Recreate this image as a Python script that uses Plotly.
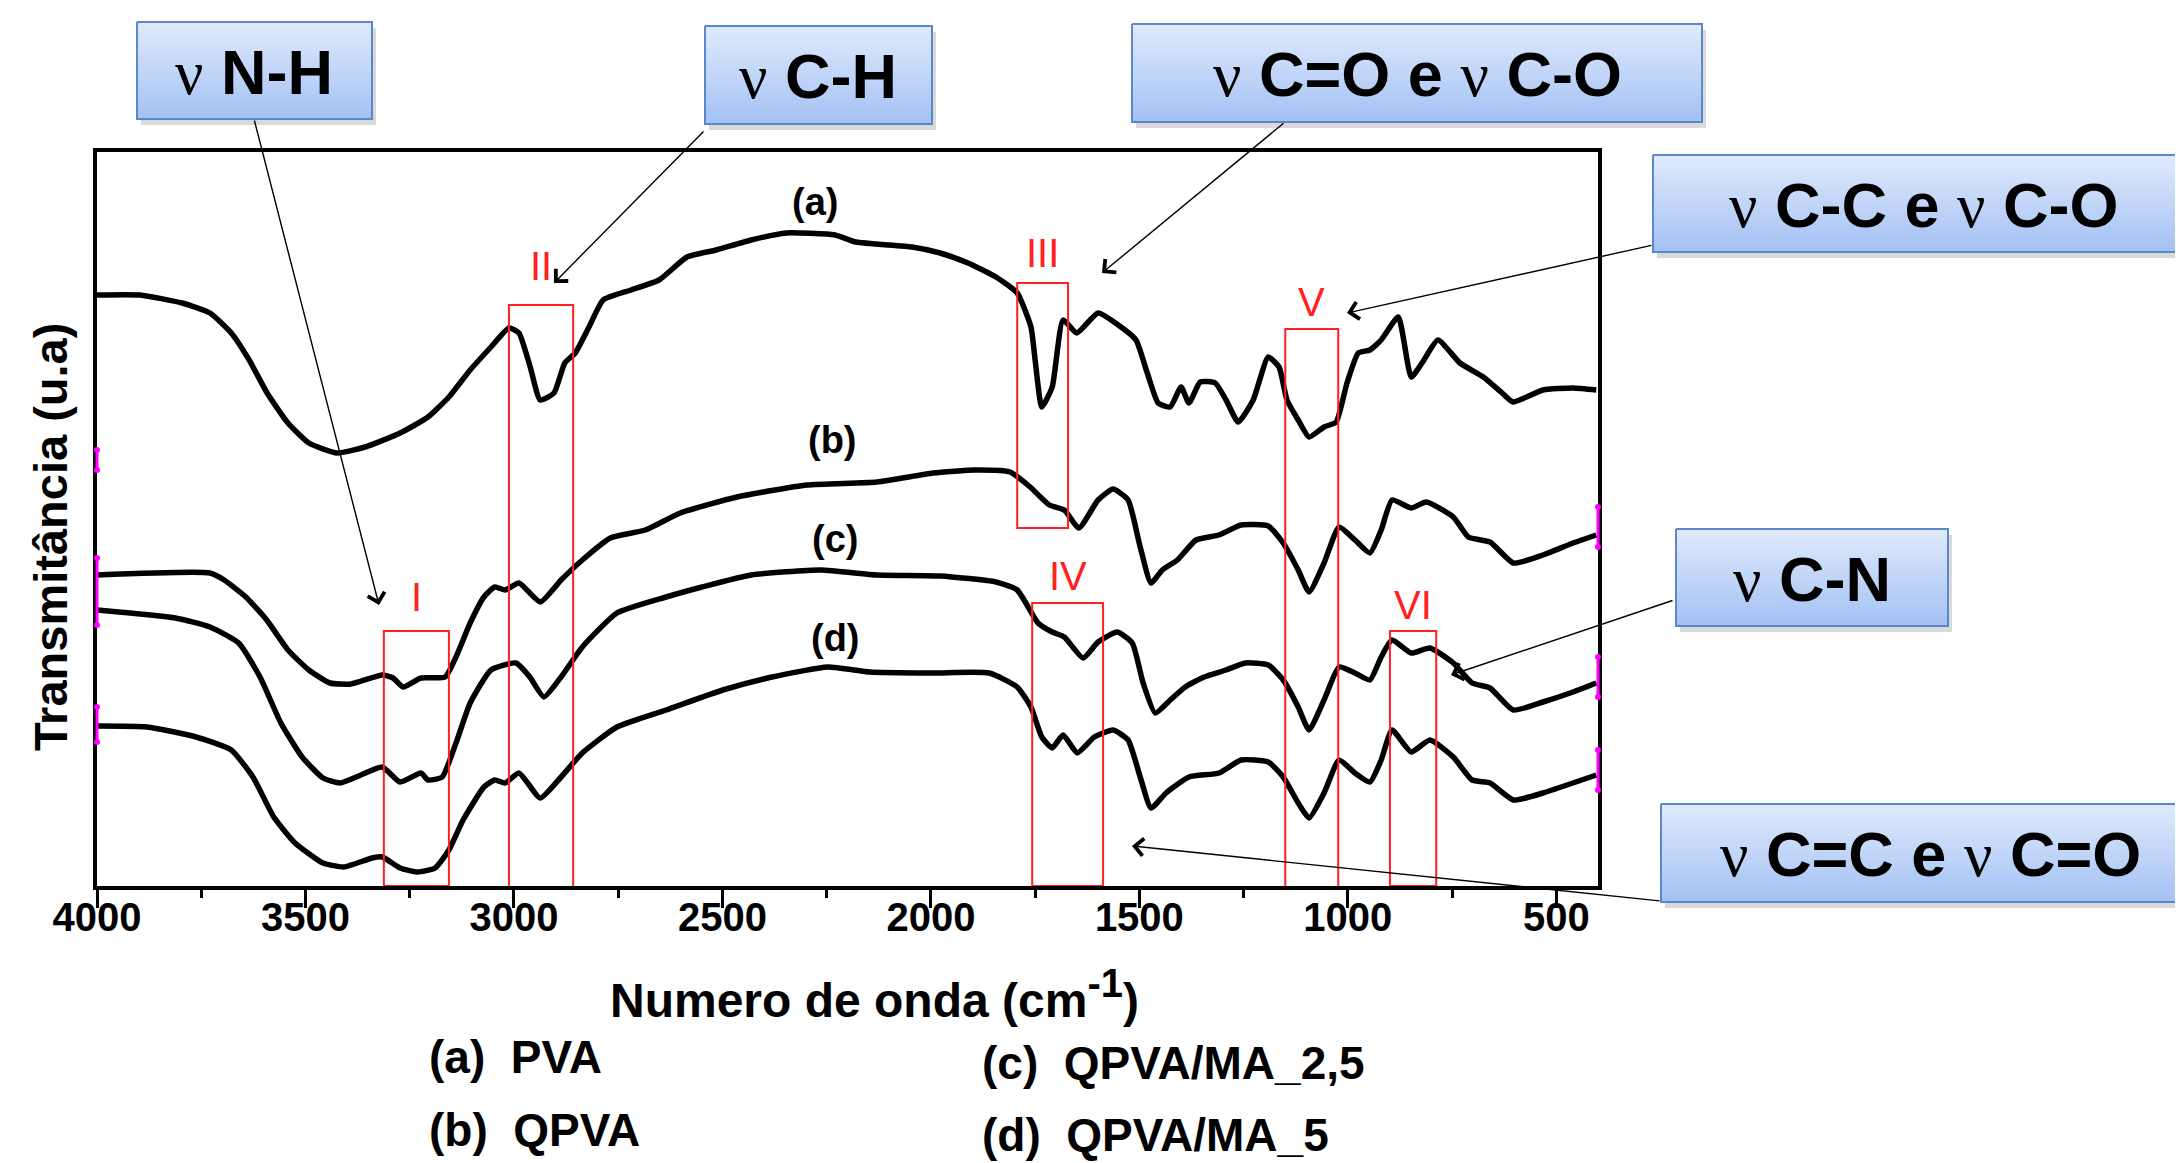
import plotly.graph_objects as go

# ---------------- data (wavenumber cm-1, transmittance a.u.) ----------------
wn_a = [4000, 3897, 3796, 3729, 3678, 3635, 3592, 3542, 3492, 3424, 3357, 3273, 3206, 3156, 3105,
        3055, 3012, 2988, 2961, 2937, 2904, 2878, 2853, 2820, 2786, 2719, 2652, 2585, 2515, 2431,
        2347, 2230, 2180, 2045, 1978, 1911, 1844, 1793, 1760, 1750, 1734, 1709, 1683, 1650, 1599,
        1544, 1508, 1481, 1455, 1426, 1400, 1381, 1354, 1318, 1292, 1263, 1227, 1191, 1165, 1146,
        1119, 1093, 1057, 1028, 1002, 975, 947, 920, 879, 848, 822, 784, 731, 675, 630, 604, 532,
        460, 404]
t_a = [59.1, 59.1, 58.3, 57.3, 55.3, 52.6, 49.3, 46.3, 44.3, 43.3, 43.9, 45.3, 46.9, 48.9, 51.6,
       53.9, 55.8, 55.3, 51.9, 48.6, 49.3, 52.3, 53.3, 55.9, 58.6, 59.6, 60.6, 62.9, 63.6, 64.6,
       65.3, 65.1, 64.4, 63.9, 63.3, 62.3, 60.9, 59.3, 55.9, 52.6, 47.9, 49.9, 56.6, 55.3, 57.3,
       55.9, 54.6, 51.3, 48.3, 47.9, 49.9, 48.3, 50.4, 50.3, 48.6, 46.4, 48.6, 52.9, 51.9, 48.6,
       46.6, 44.9, 45.9, 46.4, 50.3, 53.3, 53.6, 54.6, 56.9, 50.9, 52.3, 54.6, 52.3, 50.9, 49.3,
       48.4, 49.6, 49.8, 49.6]

wn_b = [4000, 3729, 3695, 3643, 3593, 3542, 3492, 3441, 3391, 3316, 3290, 3266, 3223, 3165, 3139,
        3105, 3072, 3046, 3021, 2988, 2937, 2887, 2836, 2769, 2685, 2601, 2465, 2297, 2129, 1995,
        1894, 1810, 1762, 1716, 1680, 1645, 1599, 1563, 1527, 1498, 1472, 1445, 1409, 1364, 1309,
        1256, 1191, 1155, 1119, 1093, 1057, 1021, 983, 947, 920, 894, 848, 812, 747, 711, 659, 603,
        532, 460, 404]
t_b = [31.1, 31.3, 30.6, 28.9, 26.6, 23.6, 21.6, 20.3, 20.2, 21.1, 20.8, 19.9, 20.8, 20.9, 22.9,
       26.3, 28.9, 29.9, 29.6, 30.3, 28.4, 30.6, 32.6, 34.8, 35.6, 37.3, 38.9, 40.1, 40.4, 41.3,
       41.6, 41.4, 39.9, 38.1, 37.6, 35.8, 38.6, 39.7, 38.6, 33.9, 30.3, 31.6, 32.6, 34.6, 35.1,
       36.1, 36.0, 34.3, 31.6, 29.4, 32.3, 35.9, 34.6, 33.3, 35.6, 38.6, 37.8, 38.4, 36.9, 34.9,
       34.4, 32.3, 33.1, 34.3, 35.1]

wn_c = [4000, 3812, 3729, 3660, 3609, 3559, 3508, 3458, 3417, 3367, 3316, 3273, 3223, 3206, 3172,
        3139, 3105, 3055, 2995, 2962, 2928, 2887, 2836, 2753, 2635, 2549, 2431, 2264, 2129, 1978,
        1844, 1793, 1743, 1709, 1680, 1635, 1599, 1553, 1517, 1491, 1462, 1426, 1390, 1345, 1292,
        1246, 1191, 1155, 1119, 1093, 1057, 1021, 983, 947, 920, 894, 848, 803, 747, 702, 659, 603,
        532, 460, 404]
t_c = [27.6, 26.8, 25.9, 24.3, 20.9, 16.3, 12.9, 10.8, 10.3, 11.1, 11.9, 10.4, 11.3, 10.6, 10.9,
       14.3, 18.3, 21.6, 22.3, 20.9, 18.9, 20.9, 23.9, 27.3, 28.9, 29.9, 31.1, 31.6, 31.1, 31.0,
       30.4, 29.6, 26.3, 25.4, 24.9, 22.8, 24.4, 25.4, 24.3, 20.3, 17.3, 18.6, 19.9, 20.9, 21.6,
       22.3, 22.1, 20.6, 17.9, 15.6, 18.6, 21.9, 21.3, 20.6, 22.9, 24.6, 23.3, 23.8, 22.3, 20.3,
       19.8, 17.6, 18.4, 19.4, 20.3]

wn_d = [4000, 3880, 3762, 3678, 3626, 3576, 3525, 3458, 3408, 3340, 3316, 3273, 3232, 3189, 3156,
        3122, 3072, 3046, 3021, 2988, 2937, 2887, 2836, 2753, 2635, 2499, 2381, 2247, 2146, 1995,
        1860, 1793, 1760, 1734, 1709, 1683, 1649, 1608, 1563, 1527, 1498, 1472, 1436, 1381, 1309,
        1256, 1191, 1155, 1119, 1093, 1057, 1021, 983, 947, 920, 894, 848, 803, 747, 702, 659, 603,
        532, 460, 404]
t_d = [16.0, 15.9, 14.9, 13.6, 10.9, 6.9, 4.3, 2.3, 1.9, 2.8, 2.9, 1.8, 1.4, 1.8, 3.6,
       6.6, 9.9, 10.6, 10.3, 11.3, 8.8, 10.9, 13.3, 15.9, 17.6, 19.6, 20.9, 21.9, 21.4, 21.3,
       21.3, 19.9, 17.9, 14.9, 13.8, 15.1, 13.3, 14.9, 15.6, 14.6, 10.9, 7.8, 9.3, 10.9, 11.3,
       12.6, 12.4, 10.9, 8.3, 6.8, 9.3, 12.6, 11.3, 10.4, 12.6, 15.6, 13.4, 14.6, 12.9, 10.6,
       10.3, 8.6, 9.3, 10.3, 11.1]

curve_labels = ["(a)", "(b)", "(c)", "(d)"]
curve_label_wn = [2278, 2237, 2230, 2228]
curve_label_t = [68.4, 44.6, 34.7, 24.8]

# highlighted regions: label, wn_high, wn_low, t_low, t_high
region_names = ["I", "II", "III", "IV", "V", "VI"]
region_wn_hi = [3312, 3012, 1793, 1757, 1150, 899]
region_wn_lo = [3156, 2858, 1671, 1587, 1023, 788]
region_t_lo = [0, -0.3, 35.8, 0, -0.3, 0]
region_t_hi = [25.5, 58.1, 60.3, 28.3, 55.7, 25.5]
region_label_t = [28.9, 62.0, 63.3, 31.0, 58.4, 28.1]

x_ticks = [4000, 3500, 3000, 2500, 2000, 1500, 1000, 500]
legend_lines = ["(a)\u00a0\u00a0PVA", "(b)\u00a0\u00a0QPVA", "(c)\u00a0\u00a0QPVA/MA_2,5", "(d)\u00a0\u00a0QPVA/MA_5"]

FONT = "Liberation Sans, Arial, sans-serif"
W, H = 2183, 1163
OFF = 8  # page body margin: the figure sits 8px from the window corner

fig = go.Figure()

for wn, t in [(wn_a, t_a), (wn_b, t_b), (wn_c, t_c), (wn_d, t_d)]:
    fig.add_trace(go.Scatter(x=wn, y=t, mode="lines",
                             line=dict(color="black", width=5.5, shape="spline", smoothing=0.5),
                             showlegend=False, hoverinfo="skip", xaxis="x", yaxis="y"))

# red rectangles and numerals
for name, hi, lo, tl, th, lt in zip(region_names, region_wn_hi, region_wn_lo, region_t_lo,
                                     region_t_hi, region_label_t):
    fig.add_shape(type="rect", xref="x", yref="y", x0=hi, x1=lo, y0=tl, y1=th,
                  line=dict(color="#ff2020", width=2), fillcolor="rgba(0,0,0,0)")
    fig.add_annotation(x=(hi + lo) / 2, y=lt, xref="x", yref="y", text=name, showarrow=False,
                       font=dict(family=FONT, size=40, color="#ff2020"))

for lab, w_, t_ in zip(curve_labels, curve_label_wn, curve_label_t):
    fig.add_annotation(x=w_, y=t_, xref="x", yref="y", text=lab, showarrow=False,
                       font=dict(family=FONT, size=38, color="black", weight="bold"))


# ---------- overlay (window-pixel) layer: callout boxes, arrows, titles ----------
def box(x0, y0, x1, y1, text, tx, ty):
    fig.add_trace(go.Scatter(x=[x0 + 4, x1 + 4, x1 + 4, x0 + 4, x0 + 4],
                             y=[y0 + 6, y0 + 6, y1 + 6, y1 + 6, y0 + 6],
                             fill="toself", fillcolor="rgba(0,0,0,0.15)", line=dict(width=0),
                             mode="lines", showlegend=False, hoverinfo="skip",
                             xaxis="x2", yaxis="y2"))
    fig.add_trace(go.Scatter(x=[x0, x1, x1, x0, x0], y=[y0, y0, y1, y1, y0],
                             fill="toself",
                             fillgradient=dict(type="vertical",
                                               colorscale=[[0, "#e0eafc"], [1, "#a3c1f4"]],
                                               start=y0, stop=y1),
                             line=dict(color="#5b88c8", width=2), mode="lines",
                             showlegend=False, hoverinfo="skip", xaxis="x2", yaxis="y2"))
    fig.add_annotation(x=tx, y=ty, xref="x2", yref="y2", text=text, showarrow=False,
                       font=dict(family=FONT, size=63, color="black"))


NU = "<span style='font-family:Liberation Serif'>\u03bd</span>"
box(137, 22, 372, 119, NU + " <b>N-H</b>", 254, 72)
box(705, 26, 932, 124, NU + " <b>C-H</b>", 818, 76)
box(1132, 24, 1702, 122, NU + " <b>C=O</b> <b>e</b> " + NU + " <b>C-O</b>", 1417, 74)
box(1653, 155, 2200, 252, NU + " <b>C-C</b> <b>e</b> " + NU + " <b>C-O</b>", 1924, 205)
box(1676, 529, 1948, 626, NU + " <b>C-N</b>", 1812, 579)
box(1661, 804, 2200, 902, NU + " <b>C=C</b> <b>e</b> " + NU + " <b>C=O</b>", 1930, 854)

arrows = [((379, 605), (254, 119)), ((554, 283), (705, 130)), ((1102, 273), (1285, 122)),
          ((1347, 313), (1653, 245)), ((1451, 675), (1674, 600)), ((1132, 846), (1661, 901))]
for (hx, hy), (tx, ty) in arrows:
    fig.add_annotation(x=hx, y=hy, ax=tx, ay=ty, xref="x2", yref="y2", axref="x2", ayref="y2",
                       text="", showarrow=True, arrowhead=4, arrowsize=2.4, arrowwidth=1.4,
                       arrowcolor="black", standoff=0)

# magenta markers on the frame
for xx, segs in [(97, [(450, 470), (558, 625), (707, 742)]), (1598, [(507, 547), (657, 697), (750, 790)])]:
    for a, b in segs:
        fig.add_trace(go.Scatter(x=[xx, xx], y=[a, b], mode="lines+markers",
                                 line=dict(color="#ff00ff", width=3), marker=dict(size=6, color="#ff00ff"),
                                 showlegend=False, hoverinfo="skip", xaxis="x2", yaxis="y2"))

# axis titles
fig.add_annotation(x=50, y=537, xref="x2", yref="y2", text="<b>Transmitância (u.a)</b>",
                   textangle=-90, showarrow=False, font=dict(family=FONT, size=47, color="black"))
fig.add_annotation(x=874, y=994, xref="x2", yref="y2",
                   text="<b>Numero de onda (cm<sup><span style='font-size:40px'>-1</span></sup>)</b>",
                   showarrow=False, font=dict(family=FONT, size=48, color="black"))

# legend text
leg_pos = [(427, 1057), (427, 1130), (980, 1063), (980, 1135)]
for txt, (lx, ly) in zip(legend_lines, leg_pos):
    fig.add_annotation(x=lx, y=ly, xref="x2", yref="y2", text="<b>" + txt + "</b>", xanchor="left",
                       showarrow=False, font=dict(family=FONT, size=46, color="black"))

fig.update_layout(
    width=W, height=H, margin=dict(l=0, r=0, t=0, b=0, pad=0, autoexpand=False),
    paper_bgcolor="white", plot_bgcolor="rgba(0,0,0,0)", showlegend=False,
    xaxis=dict(domain=[(97 - OFF) / W, (1598 - OFF) / W], range=[4000, 400], tickmode="array",
               tickvals=x_ticks, ticks="outside", ticklen=18, tickwidth=3, tickcolor="black",
               ticklabelstandoff=-25,
               showline=True, linewidth=4, linecolor="black", mirror=True,
               showgrid=False, zeroline=False, anchor="y", automargin=False,
               tickfont=dict(family=FONT, size=40, color="black", weight="bold"),
               minor=dict(tickmode="linear", tick0=0, dtick=250, ticks="outside", ticklen=8,
                          tickwidth=3, tickcolor="black", showgrid=False)),
    yaxis=dict(domain=[(H - (886 - OFF)) / H, (H - (152 - OFF)) / H], range=[0, 73.4],
               showticklabels=False, ticks="", showline=True, linewidth=4, linecolor="black",
               mirror=True, showgrid=False, zeroline=False, anchor="x", automargin=False),
    xaxis2=dict(domain=[0, 1], range=[OFF, W + OFF], visible=False, anchor="y2", fixedrange=True,
                automargin=False),
    yaxis2=dict(domain=[0, 1], range=[H + OFF, OFF], visible=False, anchor="x2", fixedrange=True,
                automargin=False),
)

fig.write_html("out.html")
